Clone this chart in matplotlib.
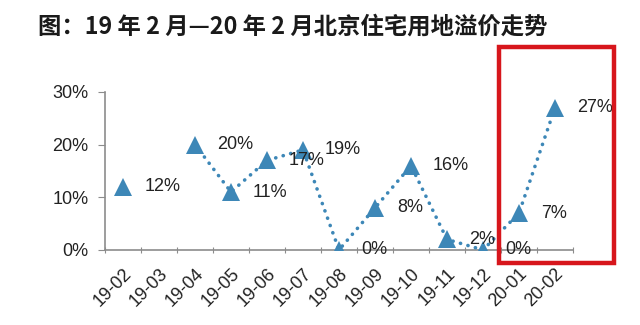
import numpy as np
import matplotlib.pyplot as plt
from matplotlib.patches import Rectangle
from matplotlib.transforms import ScaledTranslation

plt.rcParams['font.family'] = ['Liberation Sans', 'Noto Sans CJK SC', 'DejaVu Sans']

# Monthly premium rate of Beijing residential land (19-03 has no sale)
months = ['19-02', '19-03', '19-04', '19-05', '19-06', '19-07', '19-08',
          '19-09', '19-10', '19-11', '19-12', '20-01', '20-02']
premium = [12, np.nan, 20, 11, 17, 19, 0, 8, 16, 2, 0, 7, 27]
yticks = [0, 10, 20, 30]

title = '图：19 年 2 月—20 年 2 月北京住宅用地溢价走势'

blue = '#3d87b7'
grey = '#8c8c8c'
ink = '#222222'

fig = plt.figure(figsize=(6.4, 3.25), dpi=100)
ax = fig.add_axes([105 / 640, 0.231, 468 / 640, 0.486])

x = np.arange(len(months))
ax.plot(x, premium, linestyle=(0, (0.05, 2.1)), linewidth=2.6,
        dash_capstyle='round', color=blue, zorder=3)
ax.plot(x, premium, linestyle='none', color=blue, marker='^', markersize=13,
        markeredgewidth=0, zorder=3)

# Value labels to the right of each marker
for xi, v in zip(x, premium):
    if np.isnan(v):
        continue
    ax.annotate(f'{v:g}%', (xi, v), xytext=(22, 0), textcoords='offset pixels',
                ha='left', va='center', fontsize=13, color=ink, zorder=4)

ax.set_xlim(-0.5, len(months) - 0.5)
ax.set_ylim(0, 30)
ax.set_yticks(yticks)
ax.set_yticklabels([f'{t}%' for t in yticks], fontsize=13, color=ink)

# Category ticks sit on the boundaries, labels at the centres
ax.set_xticks(np.arange(len(months) + 1) - 0.5)
ax.set_xticklabels([])
ax.set_xticks(x, minor=True)
ax.set_xticklabels(months, minor=True, rotation=45, ha='right',
                   rotation_mode='anchor', fontsize=13, color=ink)
shift = ScaledTranslation(5 / 100, 0, fig.dpi_scale_trans)
for lab in ax.get_xticklabels(minor=True):
    lab.set_transform(lab.get_transform() + shift)
ax.tick_params(axis='x', which='minor', length=0, pad=11)
ax.tick_params(axis='x', which='major', length=5, color=grey, direction='inout')
ax.tick_params(axis='y', length=5, color=grey, direction='out', pad=7)

for side in ['top', 'right']:
    ax.spines[side].set_visible(False)
for side in ['left', 'bottom']:
    ax.spines[side].set_color(grey)
    ax.spines[side].set_linewidth(1.2)

fig.text(38 / 640, 1 - 27 / 325, title, fontsize=16.8, fontweight='bold',
         family=['Noto Sans CJK SC', 'DejaVu Sans'], color='#1a1a1a',
         ha='left', va='center')

# Highlight box around the last two months
fig.patches.append(Rectangle((499 / 640, 1 - 263 / 325), 115 / 640, 216 / 325,
                             transform=fig.transFigure, fill=False,
                             edgecolor='#d7161c', linewidth=3.2))

fig.savefig('out.png', dpi=100, facecolor='white')
